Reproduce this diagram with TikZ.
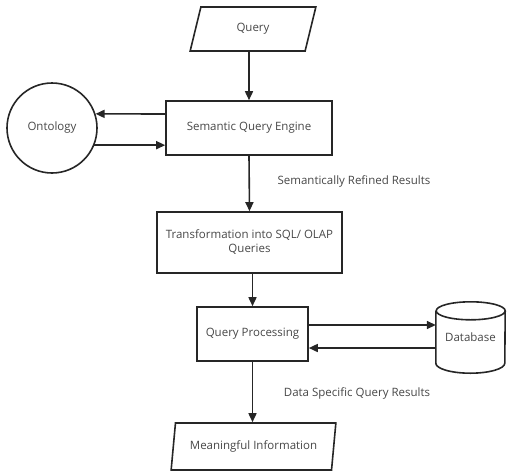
\documentclass[tikz,border=0pt]{standalone}
\usepackage{fontspec}
\setmainfont{Open Sans}
\usetikzlibrary{arrows.meta,shapes.geometric,calc}
\begin{document}
\begin{tikzpicture}[x=1pt,y=-1pt,
  every node/.style={font=\fontsize{11.5}{14}\selectfont, text=black!72},
  box/.style={draw=black!85, line width=1.6pt, rectangle, inner sep=0pt},
  para/.style={draw=black!85, line width=1.6pt, trapezium, trapezium left angle=73, trapezium right angle=107, trapezium stretches=true, inner sep=0pt},
  conn/.style={draw=black!85, line width=1.6pt, -{Triangle[length=9pt,width=8pt]}},
  lbl/.style={inner sep=0pt}
]
\useasboundingbox (0,0) rectangle (508,474);
\node[para, minimum width=126pt, minimum height=44pt] (q) at (253,29) {Query};
\node[box, minimum width=166pt, minimum height=54pt] (sqe) at (249,128) {Semantic Query Engine};
\node[draw=black!85, line width=1.6pt, circle, minimum size=90pt, inner sep=0pt] (ont) at (52,128) {Ontology};
\node[box, minimum width=185pt, minimum height=61pt, align=center] (tr) at (249.5,242.5) {Transformation into SQL/ OLAP\\Queries};
\node[box, minimum width=111pt, minimum height=54pt] (qp) at (252.5,334) {Query Processing};
\node[minimum width=69pt, minimum height=71pt, inner sep=0pt] (db) at (470.5,337.5) {Database};
\draw[draw=black!85, line width=1.6pt]
  ($(db.north west)+(0,9)$) -- ($(db.south west)+(0,-10)$)
  arc[start angle=180, end angle=360, x radius=34.5pt, y radius=10pt]
  -- ($(db.north east)+(0,9)$)
  arc[start angle=0, end angle=180, x radius=34.5pt, y radius=9pt]
  arc[start angle=180, end angle=360, x radius=34.5pt, y radius=9pt];
\node[para, minimum width=165pt, minimum height=47pt] (mi) at (253.5,446.5) {Meaningful Information};
\node[lbl] (l1) at (354,181) {Semantically Refined Results};
\node[lbl] (l2) at (357,393) {Data Specific Query Results};
\draw[conn] (q.south -| sqe.north) -- (sqe.north);
\draw[conn] ([yshift=14pt]sqe.west) -- (ont.18);
\draw[conn] (ont.-22) -- (ont.-22 -| sqe.west);
\draw[conn] (sqe.south) -- (tr.north);
\draw[conn] (tr.south -| qp.north) -- (qp.north);
\draw[conn] (qp.south) -- (qp.south |- mi.north);
\draw[conn] ([yshift=9pt]qp.east) -- ([yshift=9pt]qp.east -| db.west);
\draw[conn] ([yshift=-14pt]qp.east -| db.west) -- ([yshift=-14pt]qp.east);
\end{tikzpicture}
\end{document}
